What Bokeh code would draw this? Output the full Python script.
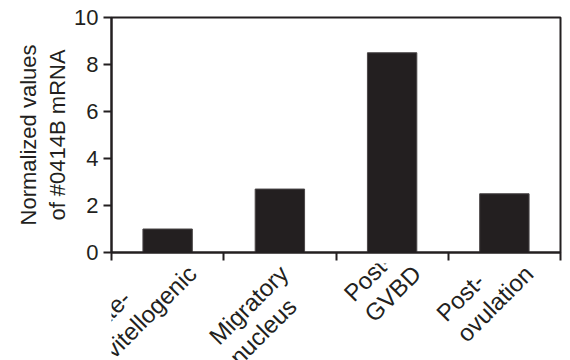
from math import cos, pi

from bokeh.core.properties import value
from bokeh.embed import file_html
from bokeh.layouts import column
from bokeh.models import ColumnDataSource, FixedTicker, LinearAxis, Range1d
from bokeh.plotting import figure
from bokeh.resources import INLINE

# Oocyte maturation stages and normalized #0414B mRNA levels
stages = ["Late-\nvitellogenic", "Migratory\nnucleus", "Post-\nGVBD", "Post-\novulation"]
values = [1.0, 2.7, 8.5, 2.5]
y_ticks = [0, 2, 4, 6, 8, 10]

INK = "#231f20"
FONT = "Liberation Sans"

# page geometry (pixels)
LEFT, RIGHT, TOP = 111, 10, 17
FRAME_W, FRAME_H = 449, 235
AXIS_STRIP = 11                      # room under the frame for the tick marks
PAGE_H = 360
CHART_H = TOP + FRAME_H + AXIS_STRIP

# slanted stage names
LABEL_PX = 24
LINE_GAP = 29
END_Y = 269                          # baseline end of each name's longest line
C45 = cos(pi / 4)
# Liberation Sans advance widths (1/1000 em) for the characters in the names
ADV = {"L": 556, "a": 556, "t": 278, "e": 556, "-": 333, "v": 500, "i": 222,
       "l": 222, "o": 556, "g": 556, "n": 556, "c": 500, "M": 833, "r": 333,
       "y": 500, "u": 556, "s": 500, "P": 667, "G": 778, "V": 667, "B": 667,
       "D": 722}


def text_px(s):
    return sum(ADV.get(ch, 556) for ch in s) * LABEL_PX / 1000


# each stage owns one unit-wide slot; bars sit at slot centres
centres = [i + 0.5 for i in range(len(stages))]
boundaries = list(range(len(stages) + 1))
x_range = Range1d(0, len(stages))

p = figure(
    frame_width=FRAME_W, frame_height=FRAME_H,
    x_range=x_range, y_range=Range1d(0, 10),
    x_axis_location=None,
    output_backend="svg", toolbar_location=None,
    min_border_left=LEFT, min_border_right=RIGHT,
    min_border_top=TOP, min_border_bottom=AXIS_STRIP,
)

p.vbar(x=centres, top=values, width=0.44, fill_color=INK,
       line_color="#4a4647", line_width=1)

# tick marks on the boundaries between stage slots
slot_axis = LinearAxis(ticker=FixedTicker(ticks=boundaries))
slot_axis.major_label_overrides = {t: "" for t in boundaries}
slot_axis.major_label_text_font_size = "1px"
slot_axis.major_label_standoff = 0
slot_axis.axis_line_width = 2
slot_axis.axis_line_color = INK
slot_axis.major_tick_line_width = 2
slot_axis.major_tick_line_color = INK
slot_axis.major_tick_in = 0
slot_axis.major_tick_out = 8
slot_axis.minor_tick_line_color = None
p.add_layout(slot_axis, "below")

ya = p.yaxis[0]
ya.ticker = FixedTicker(ticks=y_ticks)
ya.axis_label = "Normalized values\nof #0414B mRNA"
ya.axis_label_text_font = FONT
ya.axis_label_text_font_size = "22px"
ya.axis_label_text_font_style = "normal"
ya.axis_label_text_color = INK
ya.axis_label_text_line_height = 1.15
ya.axis_label_standoff = 1
ya.major_label_text_font = FONT
ya.major_label_text_font_size = "22px"
ya.major_label_text_color = INK
ya.major_label_standoff = 5
ya.axis_line_width = 2
ya.axis_line_color = INK
ya.major_tick_line_width = 2
ya.major_tick_line_color = INK
ya.major_tick_in = 0
ya.major_tick_out = 8
ya.minor_tick_line_color = None

p.xgrid.grid_line_color = None
p.ygrid.grid_line_color = None
p.outline_line_color = INK
p.outline_line_width = 2
p.border_fill_color = "white"

# strip under the chart holding the slanted stage names; its y runs in page pixels
q = figure(
    frame_width=FRAME_W, frame_height=PAGE_H - CHART_H,
    x_range=x_range, y_range=Range1d(PAGE_H, CHART_H),
    x_axis_location=None, y_axis_location=None,
    output_backend="svg", toolbar_location=None,
    min_border_left=LEFT, min_border_right=RIGHT,
    min_border_top=0, min_border_bottom=0,
)
q.xgrid.grid_line_color = None
q.ygrid.grid_line_color = None
q.outline_line_color = None
q.border_fill_color = "white"

lx, ly, lxo, lt = [], [], [], []
for cx, name in zip(centres, stages):
    lines = name.split("\n")
    widths = [text_px(t) for t in lines]
    longest = max(widths)
    k_long = widths.index(longest)
    # lines share a common start edge; the block hangs right under its slot
    start_x = 4 - longest * C45
    start_y = END_Y + longest * C45 - k_long * LINE_GAP * C45
    for k, t in enumerate(lines):
        lx.append(cx)
        lxo.append(start_x + k * LINE_GAP * C45)
        ly.append(start_y + k * LINE_GAP * C45)
        lt.append(t)

names = ColumnDataSource(dict(x=lx, y=ly, xo=lxo, text=lt))
q.text(x="x", y="y", x_offset="xo", text="text", source=names,
       angle=pi / 4, text_align="left", text_baseline="alphabetic",
       text_font=value(FONT), text_font_size=f"{LABEL_PX}px", text_color=INK)

open("out.html", "w").write(file_html(column(p, q, spacing=0), INLINE))
